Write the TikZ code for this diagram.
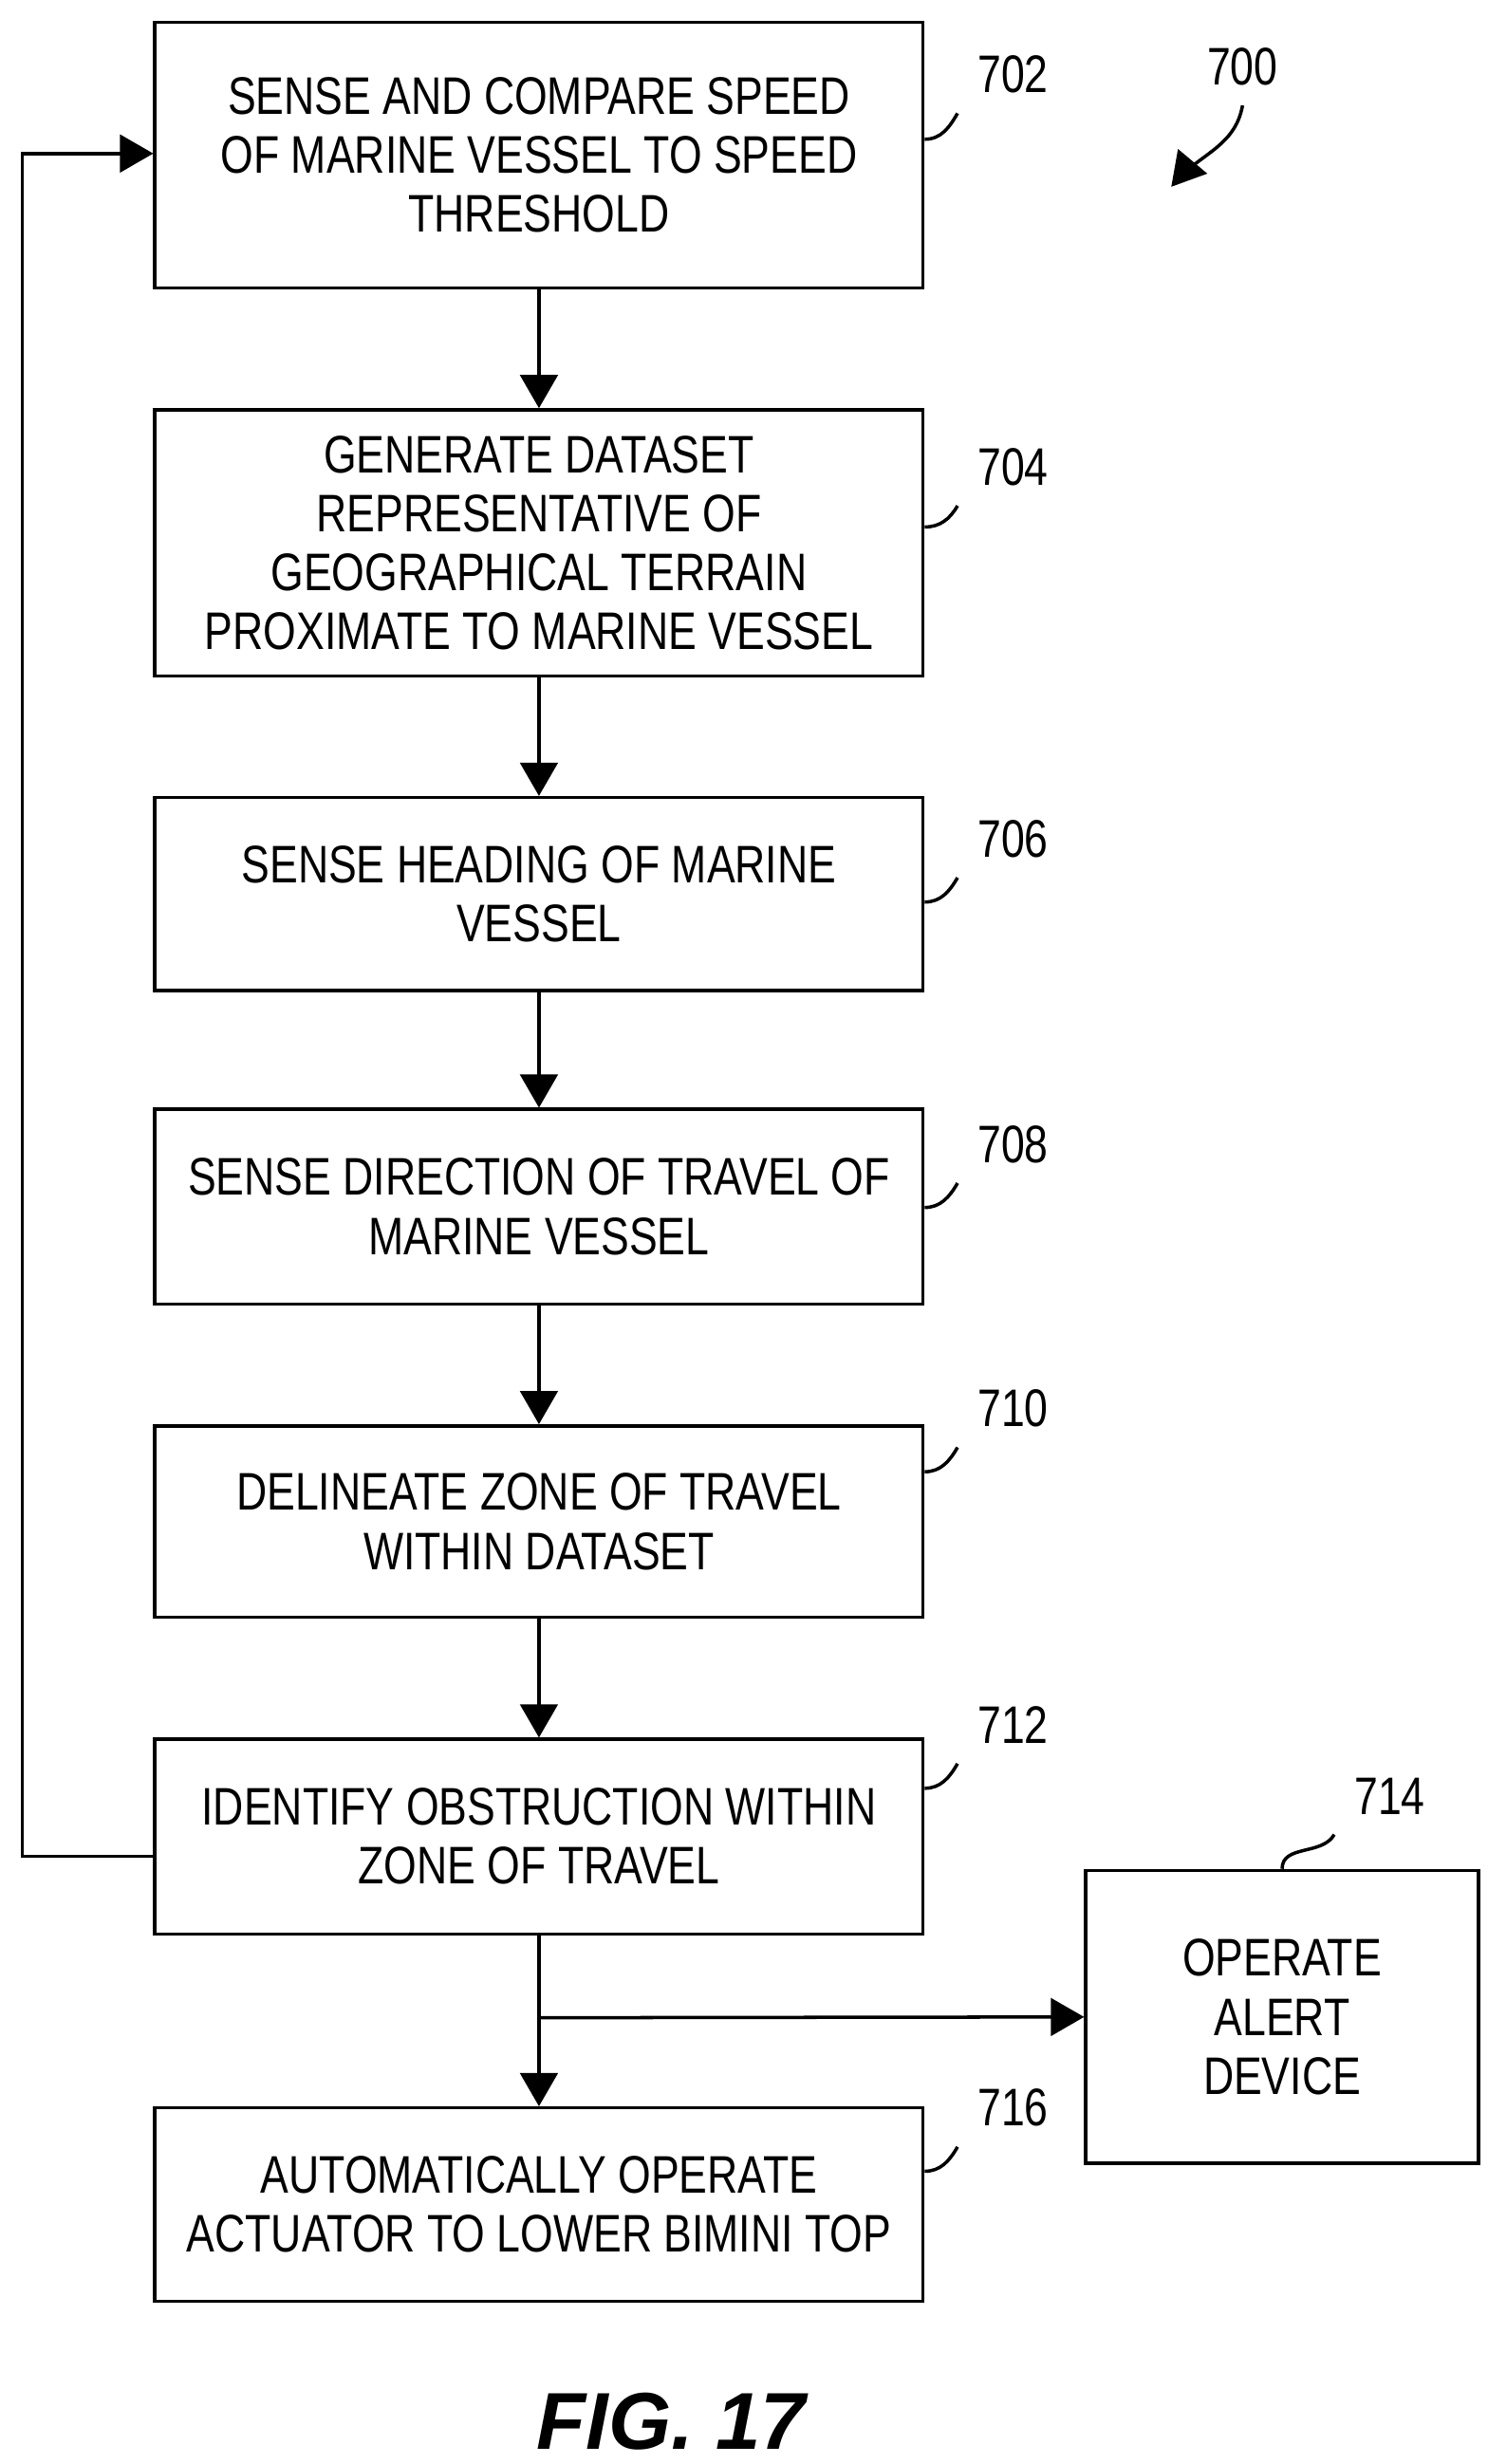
\documentclass[tikz,border=0pt]{standalone}
\usepackage{fontspec}
\setmainfont{Liberation Sans}[FakeStretch=0.8]
\newfontfamily\figfont{Liberation Sans}
\usetikzlibrary{arrows}
\tikzset{every scope/.style={>=triangle 60,line width=0.6pt}}
\tikzstyle{step_box} =
  [ rectangle
  , draw
  , align=center
  , minimum width=4.85cm
  , font=\fontsize{9.5}{10.6}\selectfont
  ]
\tikzstyle{ref_label} =
  [ font=\fontsize{9.5}{10.6}\selectfont
  ]
\begin{document}
\begin{tikzpicture}[x=0.01cm,y=-0.01cm]
    \useasboundingbox (0,0) rectangle (940,1557);
    \node[step_box,minimum height=1.68cm] (SenseSpeed)      at (340.5,  98)   {SENSE AND COMPARE SPEED\\OF MARINE VESSEL TO SPEED\\THRESHOLD};
    \node[step_box,minimum height=1.68cm] (GenerateDataset) at (340.5, 343)   {GENERATE DATASET\\REPRESENTATIVE OF\\GEOGRAPHICAL TERRAIN\\PROXIMATE TO MARINE VESSEL};
    \node[step_box,minimum height=1.22cm] (SenseHeading)    at (340.5, 565)   {SENSE HEADING OF MARINE\\VESSEL};
    \node[step_box,minimum height=1.23cm] (SenseDirection)  at (340.5, 762.5) {SENSE DIRECTION OF TRAVEL OF\\MARINE VESSEL};
    \node[step_box,minimum height=1.21cm] (DelineateZone)   at (340.5, 961.5) {DELINEATE ZONE OF TRAVEL\\WITHIN DATASET};
    \node[step_box,minimum height=1.23cm] (IdentifyObst)    at (340.5,1160.5) {IDENTIFY OBSTRUCTION WITHIN\\ZONE OF TRAVEL};
    \node[step_box,minimum height=1.22cm] (LowerBimini)     at (340.5,1393)   {AUTOMATICALLY OPERATE\\ACTUATOR TO LOWER BIMINI TOP};
    \node[step_box,minimum width=2.48cm,minimum height=1.85cm] (OperateAlert) at (810,1274.5) {OPERATE\\ALERT\\DEVICE};

    \coordinate (branch)   at (340.5,1275);
    \coordinate (loopLow)  at (14,1173);
    \coordinate (loopHigh) at (14,97);
    \coordinate (tip700)   at (740,118);

    \draw[->] (SenseSpeed)      -- (GenerateDataset);
    \draw[->] (GenerateDataset) -- (SenseHeading);
    \draw[->] (SenseHeading)    -- (SenseDirection);
    \draw[->] (SenseDirection)  -- (DelineateZone);
    \draw[->] (DelineateZone)   -- (IdentifyObst);
    \draw[->] (IdentifyObst)    -- (LowerBimini);
    \draw[->] (branch)          -- (OperateAlert.west);
    \draw[->] (IdentifyObst.west |- loopLow) -- (loopLow) -- (loopHigh) -- (SenseSpeed.west |- loopHigh);

    % reference numerals
    \node[ref_label] (n702) at (640,  47) {702};
    \node[ref_label] (n704) at (640, 295) {704};
    \node[ref_label] (n706) at (640, 530) {706};
    \node[ref_label] (n708) at (640, 723) {708};
    \node[ref_label] (n710) at (640, 890) {710};
    \node[ref_label] (n712) at (640,1090) {712};
    \node[ref_label] (n714) at (878,1135) {714};
    \node[ref_label] (n716) at (640,1332) {716};
    \node[ref_label] (n700) at (785,  42) {700};

    \draw (SenseSpeed.east |- 0,88)       to[out=0,in=240] (n702.south west);
    \draw (GenerateDataset.east |- 0,333) to[out=0,in=240] (n704.south west);
    \draw (SenseHeading.east |- 0,570)    to[out=0,in=240] (n706.south west);
    \draw (SenseDirection.east |- 0,763)  to[out=0,in=240] (n708.south west);
    \draw (DelineateZone.east |- 0,930)   to[out=0,in=240] (n710.south west);
    \draw (IdentifyObst.east |- 0,1130)   to[out=0,in=240] (n712.south west);
    \draw (LowerBimini.east |- 0,1372)    to[out=0,in=240] (n716.south west);
    \draw (OperateAlert.north)            to[out=90,in=240] (n714.south west);
    \draw[->] (n700.south) to[out=260,in=50] (tip700);

    \node[font=\figfont\bfseries\itshape\fontsize{14.5}{16}\selectfont] (caption) at (424,1530) {FIG. 17};
\end{tikzpicture}
\end{document}
